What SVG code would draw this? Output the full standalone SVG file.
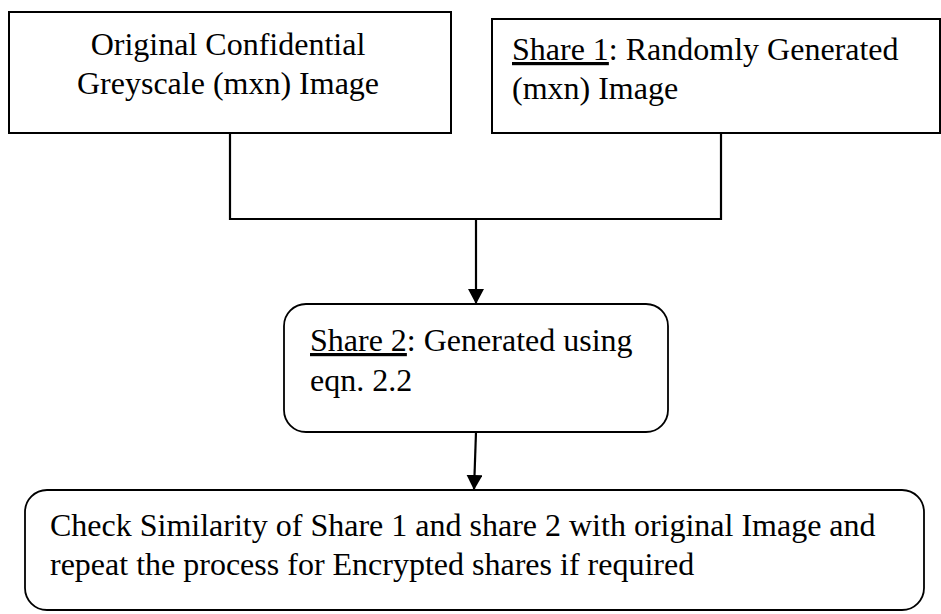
<svg xmlns="http://www.w3.org/2000/svg" width="941" height="614" viewBox="0 0 941 614">
  <style>
    .box { fill: #ffffff; stroke: #000000; stroke-width: 2; }
    .rbox { fill: #ffffff; stroke: #000000; stroke-width: 1.8; }
    .lbl { font-family: "Liberation Serif", "Times New Roman", serif; font-size: 32px; fill: #000000; }
    .u { text-decoration: underline; }
    .wire { fill: none; stroke: #000000; stroke-width: 2.2; }
  </style>
  <defs>
    <marker id="head" markerWidth="16" markerHeight="16" refX="15" refY="8" orient="auto" markerUnits="userSpaceOnUse">
      <path d="M0,0 L15,8 L0,16 Z" fill="#000000"/>
    </marker>
  </defs>
  <rect x="0" y="0" width="941" height="614" fill="#ffffff"/>

  <!-- merge of the two source images into one arrow, then the check step -->
  <g id="connectors">
    <polyline class="wire" points="230,133 230,219 721,219 721,133"/>
    <line class="wire" x1="476" y1="219" x2="476" y2="304" marker-end="url(#head)"/>
    <line class="wire" x1="476" y1="432" x2="474" y2="490" marker-end="url(#head)"/>
  </g>

  <g id="original-image">
    <rect class="box" x="9" y="12" width="442" height="121"/>
    <text class="lbl" x="228" y="55" text-anchor="middle">Original Confidential</text>
    <text class="lbl" x="228" y="94" text-anchor="middle">Greyscale (mxn) Image</text>
  </g>

  <g id="share1">
    <rect class="box" x="492" y="19" width="448" height="114"/>
    <text class="lbl" x="512" y="60"><tspan class="u">Share 1</tspan>: Randomly Generated</text>
    <text class="lbl" x="512" y="99">(mxn) Image</text>
  </g>

  <g id="share2">
    <rect class="rbox" x="284" y="304" width="384" height="128" rx="22" ry="22"/>
    <text class="lbl" x="310" y="351"><tspan class="u">Share 2</tspan>: Generated using</text>
    <text class="lbl" x="310" y="391">eqn. 2.2</text>
  </g>

  <g id="check">
    <rect class="rbox" x="25" y="490" width="899" height="120" rx="22" ry="22"/>
    <text class="lbl" x="50" y="536">Check Similarity of Share 1 and share 2 with original Image and</text>
    <text class="lbl" x="50" y="575">repeat the process for Encrypted shares if required</text>
  </g>
</svg>
